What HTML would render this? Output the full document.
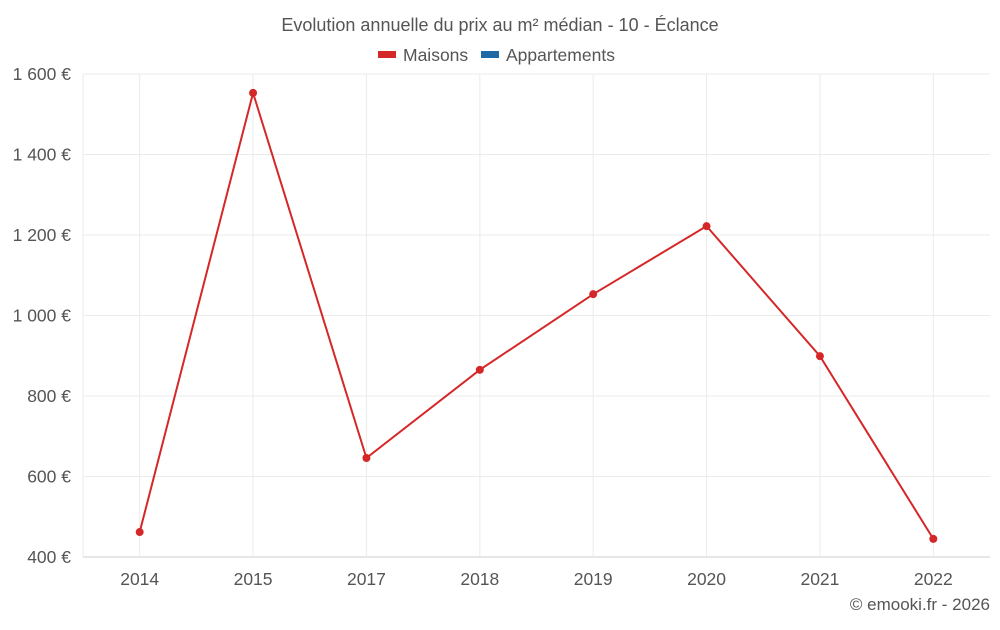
<!DOCTYPE html>
<html><head><meta charset="utf-8"><style>
body{margin:0;background:#fff;font-family:"Liberation Sans",sans-serif;}
svg text{font-family:"Liberation Sans",sans-serif;fill:#555;}
</style></head><body>
<svg width="1000" height="625">
<text x="500" y="31" text-anchor="middle" font-size="18">Evolution annuelle du prix au m² médian - 10 - Éclance</text>
<g>
<g><rect x="378" y="51" width="18" height="7" fill="#d62728"/><text x="403" y="61" font-size="17.5">Maisons</text></g>
<g><rect x="481" y="51" width="18" height="7" fill="#1f6aa5"/><text x="506" y="61" font-size="17.5">Appartements</text></g>
</g>
<g id="grid"></g>
<g id="axes"></g>
<g id="series"></g>
<text x="990" y="610" text-anchor="end" font-size="17">© emooki.fr - 2026</text>
</svg>
<script>
const categories=["2014","2015","2017","2018","2019","2020","2021","2022"];
const maisons=[462,1553,646,865,1053,1222,899,445];
const yTicks=[400,600,800,1000,1200,1400,1600];
const yTickLabels=["400 €","600 €","800 €","1 000 €","1 200 €","1 400 €","1 600 €"];
const L=83,R=990,T=74,B=557,ymin=400,ymax=1600;
const NS="http://www.w3.org/2000/svg";
function y(v){return B-(v-ymin)/(ymax-ymin)*(B-T);}
function x(i){return L+(i+0.5)*(R-L)/categories.length;}
function mk(t,a,p){const e=document.createElementNS(NS,t);for(const k in a)e.setAttribute(k,a[k]);p.appendChild(e);return e;}
const g=document.getElementById('grid'),ax=document.getElementById('axes'),s=document.getElementById('series');
yTicks.forEach((v,i)=>{
 const l=mk('line',{x1:L,x2:R,y1:y(v),y2:y(v),stroke:i==0?'#ccc':'#ebebeb'},g);
 
 
 const t=mk('text',{x:71,y:y(v)+6,'text-anchor':'end','font-size':17.5},ax);t.textContent=yTickLabels[i];
 
 
});
const vl=mk('line',{x1:L,x2:L,y1:T,y2:B,stroke:'#ebebeb'},g);


categories.forEach((c,i)=>{
 const l=mk('line',{x1:x(i),x2:x(i),y1:T,y2:B,stroke:'#ebebeb'},g);
 
 
 const t=mk('text',{x:x(i),y:585,'text-anchor':'middle','font-size':17.5},ax);t.textContent=c;
 
 
});
const p=mk('polyline',{points:maisons.map((v,i)=>x(i)+','+y(v)).join(' '),fill:'none',stroke:'#d62728','stroke-width':2},s);


maisons.forEach((v,i)=>{
 const c=mk('circle',{cx:x(i),cy:y(v),r:4,fill:'#d62728'},s);
 
 
});
</script>
</body></html>
